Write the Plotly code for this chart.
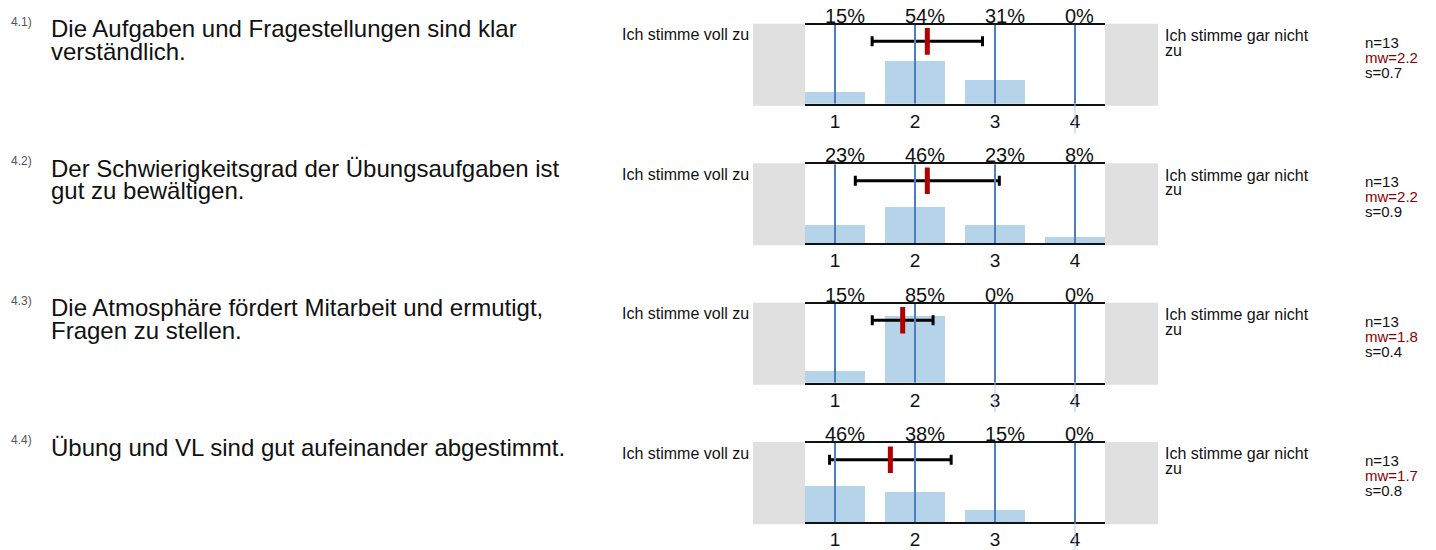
import plotly.graph_objects as go

W, H = 1436, 550

# ---------------- data ----------------
question_ids = ["4.1)", "4.2)", "4.3)", "4.4)"]
question_lines = [
    ["Die Aufgaben und Fragestellungen sind klar", "verständlich."],
    ["Der Schwierigkeitsgrad der Übungsaufgaben ist", "gut zu bewältigen."],
    ["Die Atmosphäre fördert Mitarbeit und ermutigt,", "Fragen zu stellen."],
    ["Übung und VL sind gut aufeinander abgestimmt."],
]
categories = [1, 2, 3, 4]
tick_labels = ["1", "2", "3", "4"]
pct_q1 = [15, 54, 31, 0]
pct_q2 = [23, 46, 23, 8]
pct_q3 = [15, 85, 0, 0]
pct_q4 = [46, 38, 15, 0]
percentages = [pct_q1, pct_q2, pct_q3, pct_q4]
n_values = [13, 13, 13, 13]
mean_values = [2.154, 2.154, 1.846, 1.692]
sd_values = [0.69, 0.90, 0.38, 0.76]
left_label = "Ich stimme voll zu"
right_label_lines = ["Ich stimme gar nicht", "zu"]

# ---------------- style / layout ----------------
FONT = "Liberation Sans, Arial, sans-serif"
BAR_COLOR = "#b5d4ea"
LINE_COLOR = "#4a80c0"
STUB_COLOR = "#a9c9e8"
GRAY = "#e0e0e0"
RED = "#b00000"
MW_COLOR = "#8b0000"
TEXT = "#111111"

PANEL_TOP0 = 25
PANEL_STEP = 141
PANEL_H = 80
X_LEFT, X_RIGHT = 805, 1105
GRAY_L, GRAY_R = 753, 1158


def py(y):
    return 1 - y / H


def px(x):
    return x / W


fig = go.Figure()
shapes = []
annotations = []

for k in range(4):
    sfx = "" if k == 0 else str(k + 1)
    top = PANEL_TOP0 + PANEL_STEP * k
    bot = top + PANEL_H
    xa, ya = "x" + sfx, "y" + sfx

    fig.update_layout({
        "xaxis" + sfx: dict(
            domain=[px(X_LEFT), px(X_RIGHT)], range=[0.625, 4.375], anchor=ya,
            tickvals=categories, ticktext=tick_labels, showgrid=False,
            showline=True, mirror=True, linecolor=TEXT, linewidth=2,
            zeroline=False, ticks="", ticklabelstandoff=-1,
            tickfont=dict(size=19, color=TEXT, family=FONT),
            fixedrange=True,
        ),
        "yaxis" + sfx: dict(
            domain=[py(bot), py(top)], range=[0, 100], anchor=xa,
            showgrid=False, showticklabels=False, zeroline=False, showline=False,
            fixedrange=True,
        ),
    })

    fig.add_trace(go.Bar(
        x=categories, y=percentages[k], width=0.75, marker_color=BAR_COLOR,
        marker_line_width=0, xaxis=xa, yaxis=ya, showlegend=False, hoverinfo="skip",
    ))

    # vertical category lines drawn above the bars
    for c, p in zip(categories, percentages[k]):
        shapes.append(dict(type="line", xref=xa, yref=ya, x0=c, x1=c, y0=0, y1=100,
                           line=dict(color=LINE_COLOR, width=2), layer="above"))
        if p == 0:
            shapes.append(dict(type="line", xref=xa, yref="paper", x0=c, x1=c,
                               y0=py(bot), y1=py(bot + 30),
                               line=dict(color=STUB_COLOR, width=1), layer="above"))

    # mean +- sd
    fig.add_trace(go.Scatter(
        x=[mean_values[k]], y=[79], mode="markers", xaxis=xa, yaxis=ya,
        marker=dict(symbol="line-ns", size=19, line=dict(width=5, color=RED)),
        error_x=dict(type="data", array=[sd_values[k]], thickness=3, width=5, color="black"),
        showlegend=False, hoverinfo="skip",
    ))

    # gray side boxes
    shapes.append(dict(type="rect", xref="paper", yref="paper",
                       x0=px(GRAY_L), x1=px(X_LEFT), y0=py(bot + 2), y1=py(top - 1),
                       fillcolor=GRAY, line=dict(width=0), layer="below"))
    shapes.append(dict(type="rect", xref="paper", yref="paper",
                       x0=px(X_RIGHT), x1=px(GRAY_R), y0=py(bot + 2), y1=py(top - 1),
                       fillcolor=GRAY, line=dict(width=0), layer="below"))

    # percentage labels
    for c, p in zip(categories, percentages[k]):
        annotations.append(dict(
            x=c, y=1, xref=xa, yref=ya + " domain", text=f"{p}%", showarrow=False,
            xanchor="left", yanchor="bottom", xshift=-12, yshift=-4,
            font=dict(size=20, color=TEXT, family=FONT),
        ))

    # question number + text
    annotations.append(dict(
        x=px(9), y=py(top - 3), xref="paper", yref="paper", text=question_ids[k],
        showarrow=False, xanchor="left", yanchor="middle",
        font=dict(size=12, color="#555555", family=FONT),
    ))
    for j, line in enumerate(question_lines[k]):
        annotations.append(dict(
            x=px(49), y=py(top + 4 + 23 * j), xref="paper", yref="paper", text=line,
            showarrow=False, xanchor="left", yanchor="middle",
            font=dict(size=24, color=TEXT, family=FONT),
        ))

    # scale end labels
    annotations.append(dict(
        x=px(620), y=py(top + 10), xref="paper", yref="paper", text=left_label,
        showarrow=False, xanchor="left", yanchor="middle",
        font=dict(size=16, color=TEXT, family=FONT),
    ))
    for j, line in enumerate(right_label_lines):
        annotations.append(dict(
            x=px(1163), y=py(top + 11 + 15 * j), xref="paper", yref="paper", text=line,
            showarrow=False, xanchor="left", yanchor="middle",
            font=dict(size=16, color=TEXT, family=FONT),
        ))

    # statistics
    stats = [(f"n={n_values[k]}", TEXT),
             (f"mw={mean_values[k]:.1f}", MW_COLOR),
             (f"s={sd_values[k]:.1f}", TEXT)]
    for j, (t, col) in enumerate(stats):
        annotations.append(dict(
            x=px(1363), y=py(top + 18 + 15 * j), xref="paper", yref="paper", text=t,
            showarrow=False, xanchor="left", yanchor="middle",
            font=dict(size=15, color=col, family=FONT),
        ))

fig.update_layout(
    width=W, height=H, margin=dict(l=0, r=0, t=0, b=0),
    paper_bgcolor="white", plot_bgcolor="white",
    shapes=shapes, annotations=annotations, bargap=0,
    font=dict(family=FONT),
)

fig.write_html(
    "out.html",
    config={"displayModeBar": False},
    post_script="document.body.style.margin='0px';",
)
